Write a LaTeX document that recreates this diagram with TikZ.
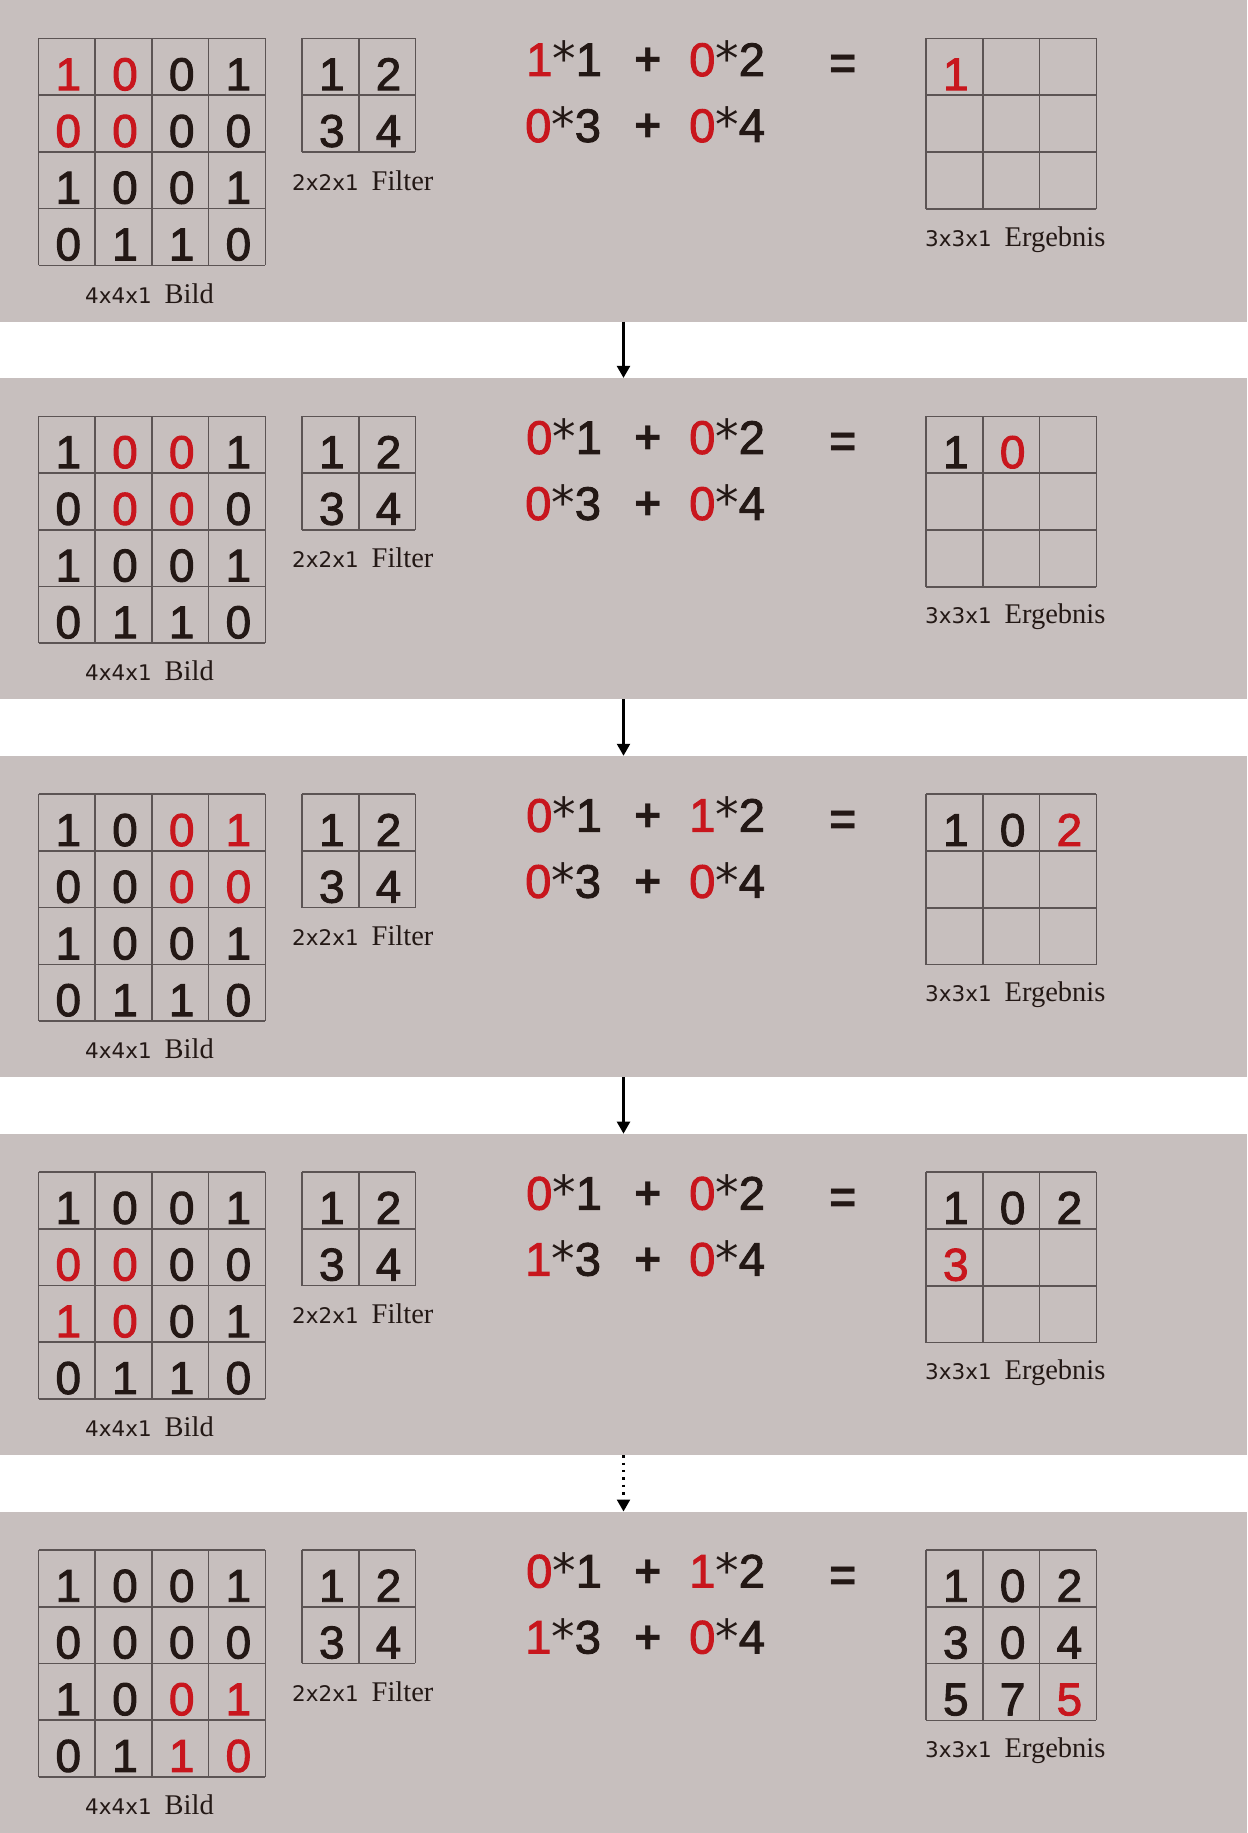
\documentclass[tikz,border=0pt]{standalone}
\usepackage{fontspec}
\setmainfont{Liberation Serif}
\setsansfont{Liberation Sans}
\newfontfamily\labeldigits{DejaVu Sans}
\newfontfamily\numfont[FakeBold=2]{Liberation Sans}
\usetikzlibrary{arrows.meta}

\definecolor{panelgray}{RGB}{199,191,190}
\definecolor{markred}{RGB}{200,22,29}
\definecolor{inkdark}{RGB}{35,24,21}
\definecolor{gridgray}{RGB}{92,84,84}

\newcommand\mulstar{{\labeldigits *}}

\tikzset{
  panel/.style={fill=panelgray, minimum width=1247pt, minimum height=321.5pt,
    inner sep=0pt, outer sep=0pt, anchor=north west},
  gridline/.style={draw=gridgray, line width=1.6pt},
  cellnum/.style={anchor=base, inner sep=0pt, text=inkdark,
    font=\numfont\fontsize{46}{46}\selectfont},
  eqterm/.style={anchor=base west, inner sep=0pt, text=inkdark,
    font=\numfont\fontsize{47}{47}\selectfont},
  eqop/.style={anchor=base, inner sep=0pt, text=inkdark,
    font=\sffamily\bfseries\fontsize{47}{47}\selectfont},
  caption/.style={anchor=base west, inner sep=0pt, text=inkdark,
    font=\fontsize{28.5}{28.5}\selectfont},
  stepline/.style={line width=2.4pt, -{Triangle[length=12pt, width=13pt]}}
}

\begin{document}
\begin{tikzpicture}[x=1pt, y=-1pt]
  \useasboundingbox (0,0) rectangle (1247,1833);
  \fill[white] (0,0) rectangle (1247,1833);

  \foreach \p/\n/\wr/\wc/\ea/\eb/\ec/\ed in
      {0/1/0/0/1/0/0/0, 1/2/0/1/0/0/0/0, 2/3/0/2/0/1/0/0,
       3/4/1/0/0/0/1/0, 4/9/2/2/0/1/1/0} {
    \node[panel] (panel\p) at (0,377.875*\p) {};
    \begin{scope}[shift={(0,377.875*\p)}]
      % 4x4 image
      \foreach \i in {0,...,4} {
        \draw[gridline] (38.5+56.7*\i,38.5) -- +(0,226.8);
        \draw[gridline] (38.5,38.5+56.7*\i) -- +(226.8,0);
      }
      \foreach \row [count=\r from 0] in {{1,0,0,1},{0,0,0,0},{1,0,0,1},{0,1,1,0}} {
        \foreach \v [count=\c from 0] in \row {
          \pgfmathtruncatemacro\hot{(\r>=\wr)&&(\r<=\wr+1)&&(\c>=\wc)&&(\c<=\wc+1)}
          \ifnum\hot=1 \def\tint{markred}\else\def\tint{inkdark}\fi
          \node[cellnum, text=\tint] (img\p-\r\c)
            at (38.5+56.7*\c+29.8, 38.5+56.7*\r+51.7) {\v};
        }
      }
      \node[caption] (imgcap\p) at (85,303) {{\labeldigits\fontsize{21.5}{21.5}\selectfont 4x4x1}\hspace{13pt}Bild};

      % 2x2 filter
      \foreach \i in {0,...,2} {
        \draw[gridline] (302+56.7*\i,38.5) -- +(0,113.4);
        \draw[gridline] (302,38.5+56.7*\i) -- +(113.4,0);
      }
      \foreach \v [count=\k from 0] in {1,2,3,4} {
        \pgfmathtruncatemacro\r{int(\k/2)}
        \pgfmathtruncatemacro\c{mod(\k,2)}
        \node[cellnum] (flt\p-\r\c) at (302+56.7*\c+29.8, 38.5+56.7*\r+51.7) {\v};
      }
      \node[caption] (fltcap\p) at (292,190) {{\labeldigits\fontsize{21.5}{21.5}\selectfont 2x2x1}\hspace{13pt}Filter};

      % equation
      \node[eqterm] (terma\p) at (526,76) {\textcolor{markred}{\ea}\mulstar1};
      \node[eqop] (plusa\p) at (648.5,76) {+};
      \node[eqterm] (termb\p) at (689,76) {\textcolor{markred}{\eb}\mulstar2};
      \node[eqterm] (termc\p) at (525,142) {\textcolor{markred}{\ec}\mulstar3};
      \node[eqop] (plusb\p) at (648.5,142) {+};
      \node[eqterm] (termd\p) at (689,142) {\textcolor{markred}{\ed}\mulstar4};
      \node[eqop] (equal\p) at (843.5,80) {=};

      % 3x3 result
      \foreach \i in {0,...,3} {
        \draw[gridline] (926+56.8*\i,38.5) -- +(0,170.4);
        \draw[gridline] (926,38.5+56.8*\i) -- +(170.4,0);
      }
      \foreach \v [count=\k] in {1,0,2,3,0,4,5,7,5} {
        \ifnum\k>\n\else
          \pgfmathtruncatemacro\r{int((\k-1)/3)}
          \pgfmathtruncatemacro\c{mod(\k-1,3)}
          \ifnum\k=\n \def\tint{markred}\else\def\tint{inkdark}\fi
          \node[cellnum, text=\tint] (res\p-\r\c)
            at (926+56.8*\c+29.8, 38.5+56.8*\r+51.7) {\v};
        \fi
      }
      \node[caption] (rescap\p) at (925,246) {{\labeldigits\fontsize{21.5}{21.5}\selectfont 3x3x1}\hspace{13pt}Ergebnis};
    \end{scope}
  }

  % steps between panels
  \draw[stepline] (panel0.south) -- (panel1.north);
  \draw[stepline] (panel1.south) -- (panel2.north);
  \draw[stepline] (panel2.south) -- (panel3.north);
  \draw[stepline, dash pattern=on 2.4pt off 5pt] (panel3.south) -- (panel4.north);
\end{tikzpicture}
\end{document}
